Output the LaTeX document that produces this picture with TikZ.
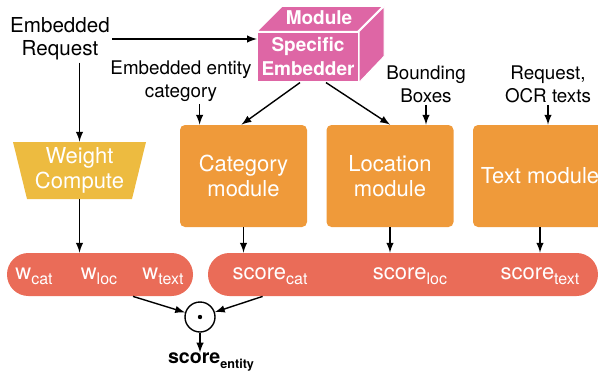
\documentclass[tikz,border=0pt]{standalone}
\usepackage{fontspec}
\setmainfont{TeX Gyre Heros}
\usepackage{tikz}
\usetikzlibrary{arrows}
\usetikzlibrary{shapes.geometric}
\definecolor{cubepink}{RGB}{222,102,165}
\definecolor{modorange}{RGB}{239,154,58}
\definecolor{wyellow}{RGB}{237,187,64}
\definecolor{pillred}{RGB}{234,108,88}
\newcommand{\lowtxt}[2]{\raisebox{-0.45ex}{\fontsize{#1}{#1}\selectfont #2}}

\begin{document}
\begin{tikzpicture}[x=0.5pt,y=-0.5pt,>=latex,
  lbl/.style={align=center,font=\fontsize{9.4}{11.5}\selectfont,inner sep=1pt},
  module/.style={fill=modorange,rounded corners=2.5pt,minimum width=63.5pt,minimum height=51pt,
    align=center,text=white,font=\fontsize{11}{12.5}\selectfont},
  pill/.style={fill=pillred,rounded corners=10.7pt,minimum height=21.5pt,inner sep=0pt},
  pilltxt/.style={text=white,font=\fontsize{11}{12}\selectfont,inner sep=0pt},
  arr/.style={line width=0.7pt,->}]
\useasboundingbox (0,0) rectangle (598,374);

\node[fill=cubepink,draw=white,line width=0.6pt,minimum width=50.5pt,minimum height=25pt,inner sep=0pt,
  align=center,text=white,font=\bfseries\fontsize{9.5}{12}\selectfont] (emb) at (308,57) {Specific\\Embedder};
\filldraw[cubepink,draw=white,line width=0.6pt] (emb.north west) -- ++(25,-25) -- ++(101,0) -- ++(-25,25) -- cycle;
\filldraw[cubepink,draw=white,line width=0.6pt] (emb.north east) -- ++(25,-25) -- ++(0,50) -- (emb.south east) -- cycle;
\node[text=white,font=\bfseries\fontsize{9.5}{12}\selectfont,inner sep=0pt] (modtop) at (319,18) {Module};

\node[lbl,font=\fontsize{10.3}{11.5}\selectfont] (req) at (60,39) {Embedded\\Request};
\node[lbl] (entcat) at (181,81) {Embedded entity\\category};
\node[lbl] (bbox) at (426,84) {Bounding\\Boxes};
\node[lbl] (ocr) at (548,84) {Request,\\OCR texts};

\node[trapezium,trapezium angle=73,shape border rotate=180,trapezium stretches body,fill=wyellow,
  minimum width=66.5pt,minimum height=28.5pt,inner sep=0pt,align=center,text=white,
  font=\fontsize{11}{12.5}\selectfont] (wc) at (79.5,170.5) {Weight\\Compute};

\node[module] (cat) at (243.5,176) {Category\\module};
\node[module] (loc) at (390,176) {Location\\module};
\node[module,minimum width=67pt] (txt) at (540,176) {Text module};

\node[pill,minimum width=93pt] (wts) at (100,274.5) {};
\node[pill,minimum width=195pt] (scr) at (403,274.5) {};
\node[pilltxt] (wcat) at (34,276) {w\lowtxt{8}{cat}};
\node[pilltxt] (wloc) at (99,276) {w\lowtxt{8}{loc}};
\node[pilltxt] (wtext) at (163,276) {w\lowtxt{8}{text}};
\node[pilltxt] (scat) at (270,276) {score\lowtxt{8}{cat}};
\node[pilltxt] (sloc) at (410,276) {score\lowtxt{8}{loc}};
\node[pilltxt] (stext) at (540,276) {score\lowtxt{8}{text}};

\node[circle,draw,line width=0.7pt,minimum size=15pt,inner sep=0pt] (dot) at (200,317) {};
\fill (dot.center) circle (1.1pt);
\node[font=\bfseries\fontsize{9.8}{11}\selectfont,inner sep=0pt] (sce) at (211,362) {score\lowtxt{6.3}{entity}};

\coordinate (catin) at ([xshift=10pt]cat.north west);
\draw[arr] (req.east) -- (req.east -| emb.west);
\draw[arr] (req.south -| wc.north) -- (wc.north);
\draw[arr] (wc.south) -- (wc.south |- wts.north);
\draw[arr] (entcat.south -| catin) -- (catin);
\draw[arr] ([xshift=-4pt]emb.south) -- ([xshift=-1pt]cat.north);
\draw[arr] ([xshift=9pt]emb.south) -- (loc.north);
\draw[arr] (bbox.south) -- (bbox.south |- loc.north);
\draw[arr] (ocr.south) -- (ocr.south |- txt.north);
\draw[arr] (cat.south) -- (cat.south |- scr.north);
\draw[arr] (loc.south) -- (loc.south |- scr.north);
\draw[arr] (txt.south) -- (txt.south |- scr.north);
\draw[arr] ([xshift=16.5pt]wts.south) -- (dot);
\draw[arr] ([xshift=27.5pt]scr.south west) -- (dot);
\draw[arr] (dot.south) -- (dot.south |- sce.north);
\end{tikzpicture}
\end{document}
